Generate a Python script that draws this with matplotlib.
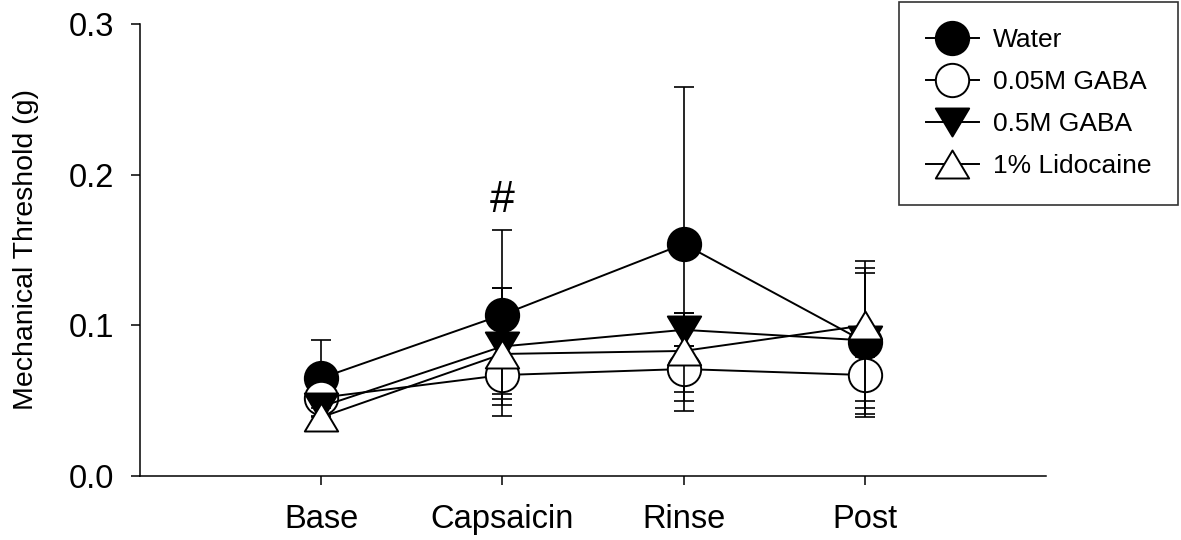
import matplotlib
matplotlib.use("Agg")
import matplotlib.pyplot as plt
from matplotlib.lines import Line2D
from matplotlib.path import Path

plt.rcParams["font.family"] = ["Liberation Sans", "DejaVu Sans"]

timepoints = ["Base", "Capsaicin", "Rinse", "Post"]
x_pos = [1, 2, 3, 4]

# means (g)
water = [0.065, 0.107, 0.154, 0.089]
gaba_005 = [0.052, 0.067, 0.071, 0.067]
gaba_05 = [0.046, 0.086, 0.097, 0.090]
lidocaine = [0.039, 0.081, 0.083, 0.100]

# error bars (lower, upper)
water_err_lo = [0.025, 0.056, 0.104, 0.050]
water_err_hi = [0.025, 0.056, 0.104, 0.046]
gaba_005_err_lo = [0.006, 0.0126, 0.015, 0.017]
gaba_005_err_hi = [0.006, 0.012, 0.015, 0.012]
gaba_05_err_lo = [0.007, 0.039, 0.011, 0.045]
gaba_05_err_hi = [0.007, 0.039, 0.011, 0.048]
lidocaine_err_lo = [0.006, 0.041, 0.040, 0.059]
lidocaine_err_hi = [0.006, 0.044, 0.025, 0.043]

labels = ["Water", "0.05M GABA", "0.5M GABA", "1% Lidocaine"]

# slightly flattened triangles, like the original symbols
tri_up = Path([(0, 0.84), (-1, -0.84), (1, -0.84), (0, 0.84)], closed=True)
tri_down = Path([(0, -0.84), (-1, 0.84), (1, 0.84), (0, -0.84)], closed=True)

series = [
    (water, water_err_lo, water_err_hi, "o", "black", 24),
    (gaba_005, gaba_005_err_lo, gaba_005_err_hi, "o", "white", 24),
    (gaba_05, gaba_05_err_lo, gaba_05_err_hi, tri_down, "black", 24),
    (lidocaine, lidocaine_err_lo, lidocaine_err_hi, tri_up, "white", 24),
]

fig = plt.figure(figsize=(11.81, 5.40), dpi=100)
ax = fig.add_axes([140 / 1181, 1 - 476 / 540, (1046 - 140) / 1181, (476 - 24) / 540])

handles = []
for i, (y, lo, hi, mk, fc, ms) in enumerate(series):
    z = 3 + 3 * i
    ax.errorbar(x_pos, y, yerr=[lo, hi], fmt="none", ecolor="black",
                elinewidth=1.2, capsize=7.5, capthick=1.2, zorder=z)
    ax.plot(x_pos, y, color="black", linewidth=1.4, zorder=z + 1)
    ax.plot(x_pos, y, linestyle="none", marker=mk, markersize=ms,
            markerfacecolor=fc, markeredgecolor="black", markeredgewidth=1.4,
            zorder=z + 2)
    handles.append(Line2D([], [], color="black", linewidth=1.4, marker=mk,
                          markersize=ms, markerfacecolor=fc,
                          markeredgecolor="black", markeredgewidth=1.4))

ax.text(2, 0.183, "#", fontsize=32, ha="center", va="center")

ax.set_xlim(0, 5)
ax.set_ylim(0, 0.3)
ax.set_xticks(x_pos)
ax.set_xticklabels(timepoints)
ax.set_yticks([0.0, 0.1, 0.2, 0.3])
ax.set_yticklabels(["0.0", "0.1", "0.2", "0.3"])
ax.tick_params(axis="both", direction="out", length=6.5, width=1.1,
               labelsize=23.5, colors="black")
ax.tick_params(axis="x", pad=14)
ax.tick_params(axis="y", pad=12)
for side in ["top", "right"]:
    ax.spines[side].set_visible(False)
for side in ["left", "bottom"]:
    ax.spines[side].set_linewidth(1.1)

ax.set_ylabel("Mechanical Threshold (g)", fontsize=20.5)
ax.yaxis.set_label_coords(-0.112, 0.5)

leg = fig.legend(handles, labels, loc="upper right",
                 bbox_to_anchor=(1178 / 1181, 1 - 2 / 540),
                 fontsize=19, frameon=True, fancybox=False, shadow=False,
                 handlelength=2.0, handletextpad=0.55, labelspacing=0.68,
                 borderpad=1.0, borderaxespad=0.0, numpoints=1)
leg.get_frame().set_edgecolor("black")
leg.get_frame().set_linewidth(1.2)

fig.savefig("out.png", dpi=100)
